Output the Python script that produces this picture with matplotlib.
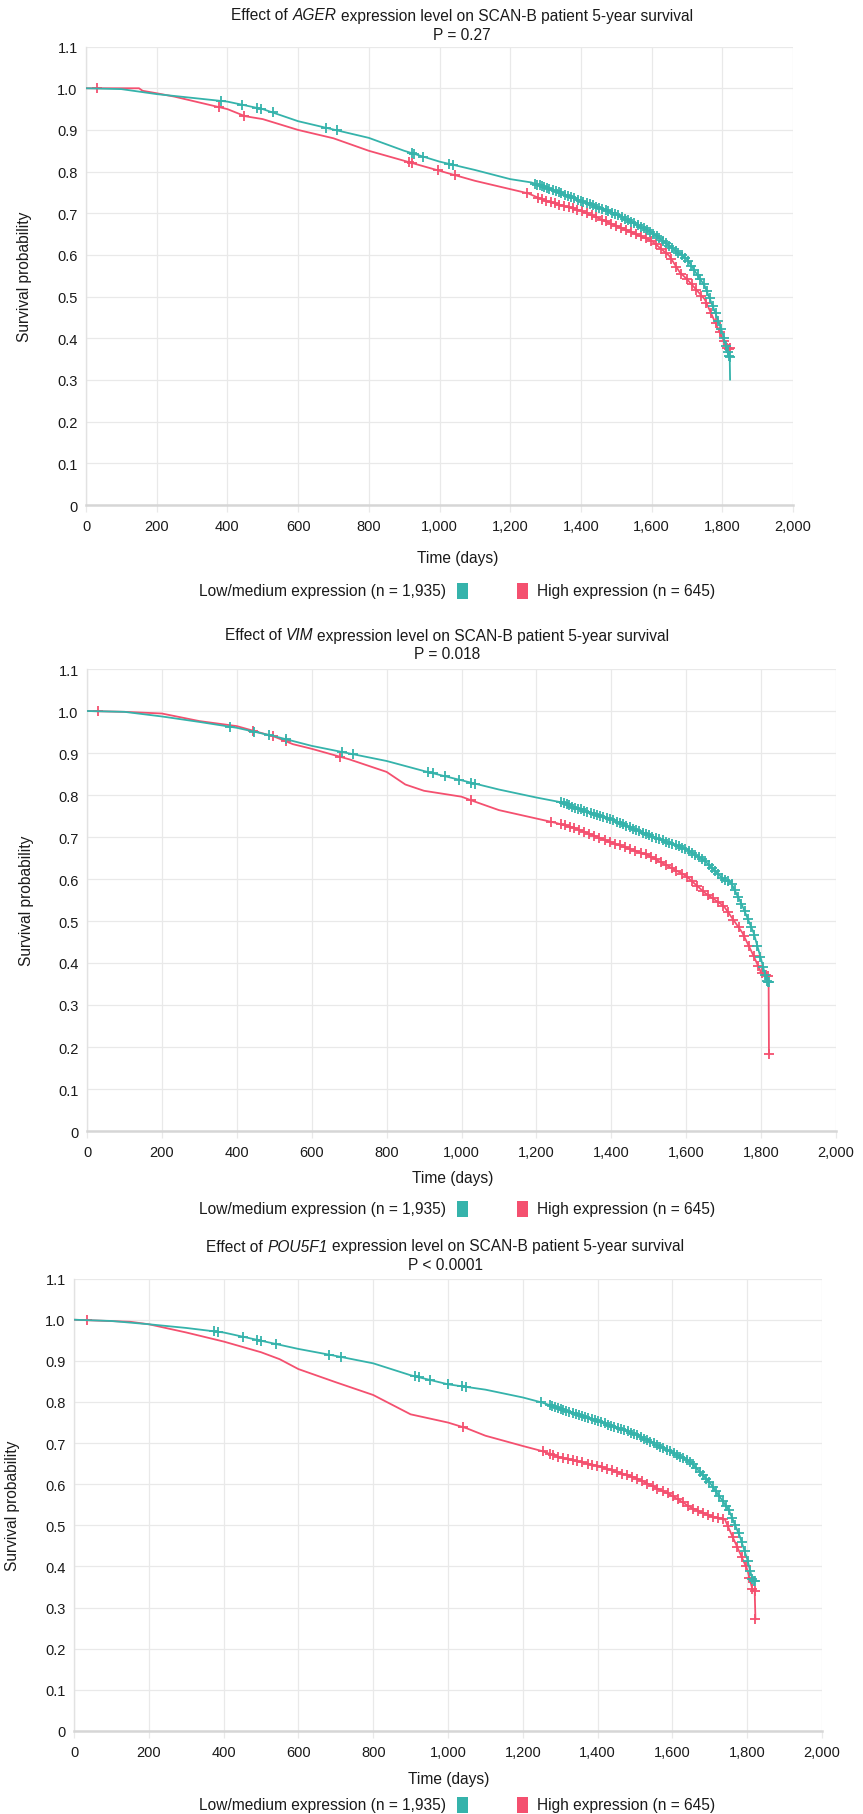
import numpy as np
import matplotlib
matplotlib.use("Agg")
import matplotlib.pyplot as plt
from matplotlib.patches import Rectangle
from matplotlib.ticker import FuncFormatter

plt.rcParams['font.family'] = ['Liberation Sans', 'DejaVu Sans']

# ---------------- data ----------------
genes = ["AGER", "VIM", "POU5F1"]
p_texts = ["P = 0.27", "P = 0.018", "P < 0.0001"]
title_pre = "Effect of"
title_post = "expression level on SCAN-B patient 5-year survival"
legend_low = "Low/medium expression (n = 1,935)"
legend_high = "High expression (n = 645)"
x_ticks = [0, 200, 400, 600, 800, 1000, 1200, 1400, 1600, 1800, 2000]
y_ticks = [0, 0.1, 0.2, 0.3, 0.4, 0.5, 0.6, 0.7, 0.8, 0.9, 1.0, 1.1]

# Panel 1 (AGER)
t1_low = [0, 100, 200, 300, 400, 500, 600, 700, 800, 900, 1000, 1100, 1200, 1260, 1300, 1400,
          1500, 1600, 1650, 1700, 1750, 1780, 1800, 1815, 1821, 1822]
s1_low = [1.0, 0.998, 0.986, 0.977, 0.968, 0.950, 0.921, 0.901, 0.881, 0.850, 0.824, 0.804, 0.782,
          0.774, 0.762, 0.730, 0.698, 0.654, 0.622, 0.590, 0.526, 0.462, 0.414, 0.366, 0.354, 0.301]
t1_high = [0, 150, 160, 200, 250, 300, 400, 450, 500, 600, 700, 800, 900, 1000, 1100, 1200, 1250,
           1300, 1400, 1500, 1600, 1650, 1680, 1700, 1750, 1780, 1800, 1815, 1822]
s1_high = [1.0, 1.0, 0.994, 0.988, 0.980, 0.970, 0.950, 0.933, 0.926, 0.900, 0.880, 0.850, 0.826,
           0.802, 0.778, 0.758, 0.748, 0.730, 0.706, 0.670, 0.634, 0.598, 0.558, 0.542, 0.494,
           0.438, 0.402, 0.374, 0.376]
c1_low = [381, 441, 484, 495, 528, 680, 711, 921, 928, 953, 1028, 1037,
          1271, 1277, 1284, 1290, 1297, 1305, 1311, 1320, 1329, 1337, 1344, 1355, 1363, 1372, 1380,
          1391, 1399, 1406, 1417, 1426, 1433, 1444, 1452, 1461, 1470, 1478, 1489, 1497, 1505, 1516,
          1525, 1533, 1542, 1551, 1561, 1569, 1578, 1588, 1596, 1605, 1614, 1622, 1633, 1641, 1650,
          1659, 1668, 1676, 1686, 1694, 1703, 1712, 1721, 1730, 1738, 1747, 1756, 1764, 1773, 1781,
          1789, 1797, 1804, 1810, 1815, 1819, 1821]
c1_high = [31, 375, 448, 913, 921, 997, 1044, 1248, 1280,
           1290, 1302, 1315, 1326, 1339, 1352, 1366, 1377, 1390, 1403, 1418, 1431, 1444, 1459, 1471,
           1486, 1499, 1513, 1528, 1541, 1556, 1570, 1584, 1599, 1612, 1627, 1641, 1656, 1670, 1684,
           1699, 1713, 1727, 1741, 1755, 1768, 1781, 1793, 1804, 1813, 1819, 1822]

# Panel 2 (VIM)
t2_low = [0, 100, 200, 300, 400, 500, 600, 700, 800, 900, 1000, 1100, 1200, 1270, 1300, 1400,
          1500, 1600, 1650, 1700, 1720, 1750, 1780, 1800, 1815, 1820]
s2_low = [1.0, 0.998, 0.987, 0.974, 0.960, 0.940, 0.917, 0.899, 0.881, 0.857, 0.835, 0.813, 0.794,
          0.782, 0.771, 0.742, 0.704, 0.671, 0.643, 0.599, 0.591, 0.536, 0.472, 0.409, 0.357, 0.355]
t2_high = [0, 100, 200, 300, 400, 500, 550, 600, 700, 800, 850, 900, 1000, 1030, 1100, 1200, 1250,
           1300, 1400, 1500, 1600, 1650, 1700, 1750, 1780, 1800, 1815, 1820, 1821]
s2_high = [1.0, 0.998, 0.994, 0.976, 0.964, 0.939, 0.921, 0.910, 0.885, 0.855, 0.825, 0.810, 0.796,
           0.786, 0.764, 0.744, 0.734, 0.722, 0.687, 0.656, 0.607, 0.567, 0.536, 0.472, 0.417,
           0.377, 0.369, 0.369, 0.183]
c2_low = [381, 447, 485, 531, 680, 709, 910, 923, 957, 994, 1026, 1036,
          1267, 1274, 1281, 1288, 1296, 1303, 1312, 1319, 1328, 1336, 1345, 1353, 1362, 1370, 1379,
          1388, 1397, 1405, 1414, 1423, 1431, 1440, 1449, 1458, 1466, 1475, 1484, 1493, 1501, 1510,
          1519, 1528, 1537, 1545, 1554, 1563, 1572, 1580, 1589, 1598, 1607, 1616, 1624, 1633, 1642,
          1651, 1660, 1668, 1677, 1686, 1695, 1703, 1712, 1721, 1730, 1739, 1747, 1756, 1765, 1774,
          1782, 1790, 1798, 1805, 1811, 1816, 1819, 1820]
c2_high = [29, 444, 497, 531, 676, 1026, 1240, 1265,
           1276, 1289, 1301, 1314, 1328, 1341, 1355, 1368, 1382, 1396, 1409, 1423, 1437, 1450, 1464,
           1478, 1492, 1505, 1519, 1533, 1547, 1561, 1574, 1588, 1602, 1616, 1630, 1644, 1657, 1671,
           1685, 1699, 1712, 1726, 1740, 1754, 1767, 1780, 1792, 1803, 1812, 1818, 1821]

# Panel 3 (POU5F1)
t3_low = [0, 100, 200, 300, 400, 500, 600, 700, 800, 900, 1000, 1100, 1200, 1250, 1300, 1400,
          1500, 1600, 1650, 1700, 1750, 1780, 1800, 1815, 1820]
s3_low = [1.0, 0.997, 0.989, 0.980, 0.969, 0.949, 0.929, 0.912, 0.894, 0.865, 0.843, 0.830, 0.811,
          0.799, 0.784, 0.754, 0.722, 0.677, 0.653, 0.604, 0.539, 0.474, 0.418, 0.365, 0.365]
t3_high = [0, 150, 200, 300, 400, 500, 550, 600, 700, 800, 900, 1000, 1050, 1100, 1200, 1250,
           1300, 1400, 1500, 1600, 1650, 1700, 1740, 1760, 1780, 1800, 1815, 1820, 1822]
s3_high = [1.0, 0.995, 0.989, 0.969, 0.947, 0.921, 0.904, 0.880, 0.848, 0.817, 0.770, 0.750, 0.736,
           0.718, 0.693, 0.681, 0.665, 0.645, 0.616, 0.572, 0.543, 0.523, 0.515, 0.474, 0.434,
           0.393, 0.341, 0.341, 0.272]
c3_low = [375, 385, 451, 488, 499, 539, 681, 713, 912, 922, 952, 1000, 1038, 1047, 1248,
          1273, 1279, 1286, 1293, 1301, 1308, 1316, 1324, 1333, 1341, 1350, 1358, 1367, 1375, 1384,
          1393, 1402, 1410, 1419, 1428, 1436, 1445, 1454, 1463, 1471, 1480, 1489, 1498, 1506, 1515,
          1524, 1533, 1541, 1550, 1559, 1568, 1576, 1585, 1594, 1603, 1611, 1620, 1629, 1638, 1646,
          1655, 1664, 1673, 1681, 1690, 1699, 1708, 1716, 1725, 1734, 1743, 1751, 1760, 1768, 1777,
          1785, 1793, 1801, 1808, 1814, 1818, 1820]
c3_high = [35, 1040, 1254, 1273,
           1282, 1294, 1307, 1320, 1333, 1346, 1359, 1373, 1386, 1399, 1412, 1426, 1439, 1452, 1466,
           1479, 1493, 1506, 1520, 1533, 1547, 1560, 1574, 1587, 1601, 1614, 1628, 1641, 1655, 1668,
           1682, 1695, 1709, 1722, 1735, 1748, 1761, 1773, 1785, 1796, 1806, 1814, 1820, 1822]

# ---------------- styling / layout ----------------
TEAL = '#35B3AB'
PINK = '#F4506F'
GRID = '#e9e9e9'
TXT = '#1a1a1a'
W, H = 863, 1815
DPI = 100
FS_TICK = 10.5
FS_TXT = 11.2

# axes boxes in pixels: left, right, top(y=1.1), bottom(y=0)
boxes = [(86, 793, 47.6, 506), (87, 836, 670, 1132), (74, 822, 1279.6, 1732)]
title_y = [16, 636, 1247]
p_y = [35, 655, 1266]
title_x = [462, 447, 445]
ylab_x = [25, 27, 13]
xlab = [(458, 559), (453, 1178), (449, 1780)]
leg_y = [592, 1210, 1806]

panels = [
    (t1_low, s1_low, t1_high, s1_high, c1_low, c1_high),
    (t2_low, s2_low, t2_high, s2_high, c2_low, c2_high),
    (t3_low, s3_low, t3_high, s3_high, c3_low, c3_high),
]

fig = plt.figure(figsize=(W / DPI, H / DPI), dpi=DPI)
fig.patch.set_facecolor('white')
renderer = fig.canvas.get_renderer()


def fx(px):
    return px / W


def fy(py):
    return 1 - py / H


def text_w(s, **kw):
    t = fig.text(0, 0, s, **kw)
    w = t.get_window_extent(renderer).width
    t.remove()
    return w


space_w = text_w("a a", fontsize=FS_TXT) - text_w("aa", fontsize=FS_TXT)


def rich_title(xc, y, parts):
    widths = [text_w(s, fontsize=FS_TXT, fontstyle=st) for s, st in parts]
    total = sum(widths) + space_w * (len(parts) - 1)
    x = xc - total / 2
    for (s, st), w in zip(parts, widths):
        fig.text(fx(x), fy(y), s, ha='left', va='center', fontsize=FS_TXT, fontstyle=st, color=TXT)
        x += w + space_w


for i, (tl, sl, th, sh, cl, ch) in enumerate(panels):
    l, r, t, b = boxes[i]
    ax = fig.add_axes([fx(l), fy(b), (r - l) / W, (b - t) / H])
    ax.set_xlim(0, 2000)
    ax.set_ylim(0, 1.1)
    ax.set_xticks(x_ticks)
    ax.set_yticks(y_ticks)
    ax.xaxis.set_major_formatter(FuncFormatter(lambda v, p: f"{int(v):,}"))
    ax.yaxis.set_major_formatter(FuncFormatter(lambda v, p: "0" if abs(v) < 1e-9 else f"{v:.1f}"))
    ax.grid(True, color=GRID, linewidth=0.9)
    ax.set_axisbelow(True)
    for s in ['top', 'right']:
        ax.spines[s].set_visible(False)
    ax.spines['left'].set_color('#e2e2e2')
    ax.spines['left'].set_linewidth(1.0)
    ax.spines['bottom'].set_color('#d6d6d6')
    ax.spines['bottom'].set_linewidth(1.8)
    ax.tick_params(axis='x', length=5, color=GRID, width=0.9, pad=5, labelsize=FS_TICK, labelcolor=TXT)
    ax.tick_params(axis='y', length=0, pad=6, labelsize=FS_TICK, labelcolor=TXT)

    # curves (high first, low on top)
    ax.plot(th, sh, color=PINK, lw=1.3, zorder=3)
    ax.plot(ch, np.interp(ch, th, sh), linestyle='none', marker='+', ms=7, mew=1.3,
            color=PINK, zorder=3)
    ax.plot(tl, sl, color=TEAL, lw=1.3, zorder=4)
    ax.plot(cl, np.interp(cl, tl, sl), linestyle='none', marker='+', ms=7, mew=1.3,
            color=TEAL, zorder=4)

    # titles
    rich_title(title_x[i], title_y[i], [(title_pre, 'normal'), (genes[i], 'italic'), (title_post, 'normal')])
    fig.text(fx(title_x[i]), fy(p_y[i]), p_texts[i], ha='center', va='center', fontsize=FS_TXT, color=TXT)
    fig.text(fx(ylab_x[i]), fy((t + b) / 2), "Survival probability", rotation=90,
             ha='center', va='center', fontsize=FS_TXT, color=TXT)
    fig.text(fx(xlab[i][0]), fy(xlab[i][1]), "Time (days)", ha='center', va='center',
             fontsize=FS_TXT, color=TXT)

    # legend
    ly = leg_y[i]
    fig.text(fx(446), fy(ly), legend_low, ha='right', va='center', fontsize=FS_TXT, color=TXT)
    fig.patches.append(Rectangle((fx(457), fy(ly + 8)), 11 / W, 16 / H, transform=fig.transFigure,
                                 facecolor=TEAL, edgecolor='none'))
    fig.patches.append(Rectangle((fx(517), fy(ly + 8)), 11 / W, 16 / H, transform=fig.transFigure,
                                 facecolor=PINK, edgecolor='none'))
    fig.text(fx(537), fy(ly), legend_high, ha='left', va='center', fontsize=FS_TXT, color=TXT)

fig.savefig("out.png", dpi=DPI, facecolor='white')
